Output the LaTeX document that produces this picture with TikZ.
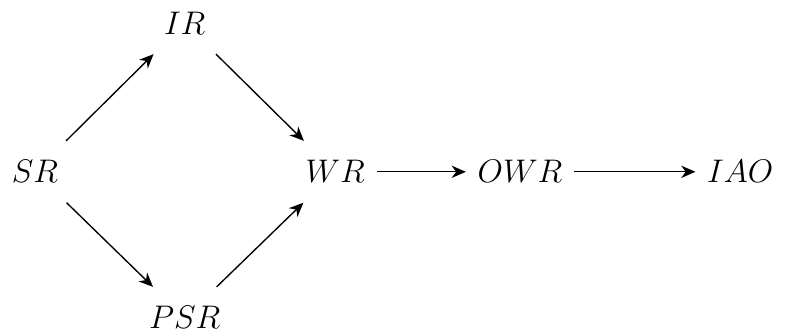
\documentclass[tikz,border=0pt]{standalone}
\usepackage{amsmath}
\usepackage{amssymb}
\usetikzlibrary{arrows.meta}

\tikzset{
  state/.style={inner xsep=5pt, inner ysep=8.5pt, font=\fontsize{13.5}{16}\selectfont},
  flow/.style={-{Stealth[length=2.2mm,width=1.9mm,inset=0.7mm]}, semithick}
}

\begin{document}
\begin{tikzpicture}
            \useasboundingbox (0,0) rectangle (12.23,-5.15);
            \node[state] (sr) at (0.54,-2.66) {$SR$};
            \node[state] (ir) at (2.86,-0.36) {$IR$};
            \node[state] (psr) at (2.86,-4.92) {$PSR$};
            \node[state] (wr) at (5.19,-2.66) {$WR$};
            \node[state] (owr) at (8.05,-2.66) {$OWR$};
            \node[state] (iao) at (11.46,-2.66) {$IAO$};
            \draw[flow] (sr) -- (ir);
            \draw[flow] (sr) -- (psr);
            \draw[flow] (ir) -- (wr);
            \draw[flow] (psr) -- (wr);
            \draw[flow] (wr) -- (owr);
            \draw[flow] (owr) -- (iao);
        \end{tikzpicture}
\end{document}
